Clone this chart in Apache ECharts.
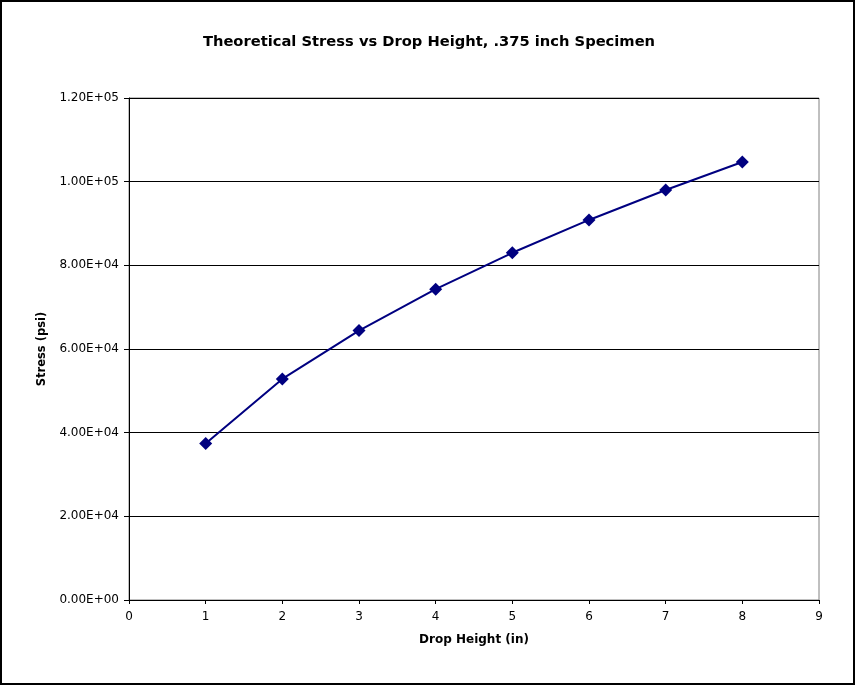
<!DOCTYPE html>
<html>
<head>
<meta charset="utf-8">
<script src="https://cdn.jsdelivr.net/npm/echarts@6/dist/echarts.min.js"></script>
<style>
html,body{margin:0;padding:0;background:#fff;}
#wrap{position:absolute;left:0;top:0;width:851px;height:681px;border:2px solid #000;}
#chart{width:851px;height:681px;}
</style>
</head>
<body>
<div id="wrap"><div id="chart"></div></div>
<script>
const title = 'Theoretical Stress vs Drop Height, .375 inch Specimen';
const xName = 'Drop Height (in)';
const yName = 'Stress (psi)';
const dropHeight = [1, 2, 3, 4, 5, 6, 7, 8];
const stress = [37400, 52850, 64400, 74300, 83000, 90850, 98000, 104700];

function sci(v) {
  if (v === 0) return '0.00E+00';
  const e = Math.floor(Math.log10(Math.abs(v)) + 1e-9);
  const m = v / Math.pow(10, e);
  const es = (e < 0 ? '-' : '+') + String(Math.abs(e)).padStart(2, '0');
  return m.toFixed(2) + 'E' + es;
}

const chart = echarts.init(document.getElementById('chart'), null, {renderer: 'canvas'});
const font = 'Verdana, "DejaVu Sans", sans-serif';
chart.setOption({
  animation: false,
  backgroundColor: '#fff',
  title: {
    text: title, left: 422, top: 28, textAlign: 'center',
    textStyle: {fontFamily: font, fontSize: 14.7, fontWeight: 'bold', color: '#000'}
  },
  grid: {left: 127, right: 34, top: 96, bottom: 83, show: true, borderColor: '#808080', borderWidth: 1},
  xAxis: {
    type: 'value', min: 0, max: 9, interval: 1,
    name: xName, nameLocation: 'middle', nameGap: 34,
    nameTextStyle: {fontFamily: font, fontSize: 12, fontWeight: 'bold', color: '#000'},
    axisLine: {onZero: false, lineStyle: {color: '#000', width: 1}},
    axisTick: {show: true, length: 4, lineStyle: {color: '#000'}},
    axisLabel: {fontFamily: font, fontSize: 12, color: '#000', margin: 11},
    splitLine: {show: false}
  },
  yAxis: {
    type: 'value', min: 0, max: 120000, interval: 20000,
    name: yName, nameLocation: 'middle', nameGap: 74, nameRotate: 90,
    nameTextStyle: {fontFamily: font, fontSize: 11.5, fontWeight: 'bold', color: '#000'},
    axisLine: {show: true, lineStyle: {color: '#000', width: 1}},
    axisTick: {show: true, length: 5, lineStyle: {color: '#000'}},
    axisLabel: {fontFamily: font, fontSize: 12, color: '#000', margin: 10, formatter: sci},
    splitLine: {show: true, lineStyle: {color: '#000', width: 1}}
  },
  series: [{
    type: 'line',
    data: dropHeight.map((x, i) => [x, stress[i]]),
    symbol: 'diamond', symbolSize: 13,
    lineStyle: {color: '#000080', width: 2},
    itemStyle: {color: '#000080'}
  }]
});
</script>
</body>
</html>
